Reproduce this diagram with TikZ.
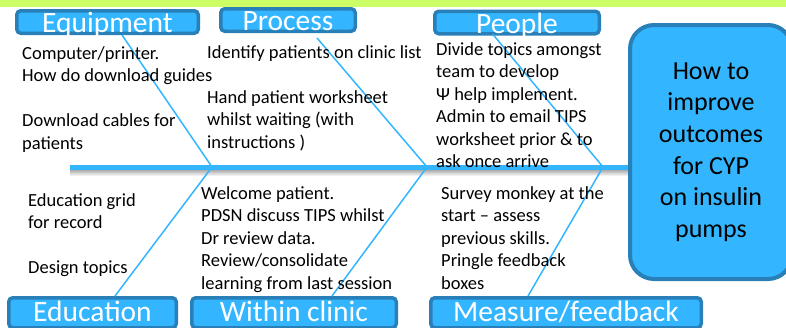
\documentclass[tikz,border=0pt]{standalone}
\usepackage{fontspec}
\setmainfont{Carlito}
\definecolor{fishblue}{RGB}{51,182,255}
\definecolor{fishedge}{RGB}{41,128,185}
\definecolor{bandgreen}{RGB}{204,255,102}

\begin{document}
\begin{tikzpicture}[x=1pt,y=-1pt]
    \tikzstyle{cause}=[rectangle,rounded corners=4pt,draw=fishedge,line width=3.5pt,fill=fishblue,text=white,inner sep=0pt,font=\fontsize{29.5}{29.5}\selectfont,text depth=0pt]
    \tikzstyle{top cause}=[cause,minimum height=22.5pt,text height=21pt]
    \tikzstyle{bottom cause}=[cause,minimum height=30pt,text height=18pt]
    \tikzstyle{effect}=[rectangle,rounded corners=24pt,draw=fishedge,line width=4pt,fill=fishblue,align=center,inner sep=0pt,font=\fontsize{26}{31.6}\selectfont]
    \tikzstyle{notes}=[anchor=north west,align=left,inner sep=0pt,font=\fontsize{18.5}{22.5}\selectfont]
    \tikzstyle{bone}=[draw=fishblue,line width=1.5pt]

    \useasboundingbox (0,0) rectangle (786,327);
    \clip (0,0) rectangle (786,327);

    % Green band along the top
    \fill[bandgreen] (0,0) rectangle (786,7);

    % Spine with its shadow
    \coordinate (tail) at (70,167);
    \shade[top color=black!35,bottom color=white] (70,169.5) rectangle (630,176);

    % Junctions on the spine
    \foreach \name / \x in {1/212,2/427,3/603}
        \coordinate (J-\name) at (\x,167);

    % Cause boxes, top row
    \node[top cause,minimum width=181.5pt] (equip) at (107.5,22) {Equipment};
    \node[top cause,minimum width=134.5pt] (process) at (288,20) {Process};
    \node[top cause,minimum width=164.5pt] (people) at (517,22.5) {People};

    % Cause boxes, bottom row
    \node[bottom cause,minimum width=167.5pt] (education) at (92.5,312.75) {Education};
    \node[bottom cause,minimum width=204.5pt] (clinic) at (294,312.75) {Within clinic};
    \node[bottom cause,minimum width=270.5pt] (measure) at (566,312.75) {Measure/feedback};

    % The effect
    \node[effect,minimum width=162pt,minimum height=254pt] (effect) at (711,152)
        {How to\\improve\\outcomes\\for CYP\\on insulin\\pumps};

    \draw[fishblue,line width=5pt] (tail) -- (tail -| effect.west);

    % Bones from each cause to the spine
    \draw[bone] (equip.south) ++(14.5,0) -- (J-1);
    \draw[bone] (process.south) ++(29,5) -- (J-2);
    \draw[bone] (people.south) ++(-24,-1) -- (J-3);
    \draw[bone] (education.north) ++(22.5,0) -- (J-1);
    \draw[bone] (clinic.north) ++(38,0) -- (J-2);
    \draw[bone] (measure.north) ++(-38,0) -- (J-3);

    % Notes under each cause
    \node[notes] (equip notes) at (22,46)
        {Computer/printer.\\How do download guides\\[22.5pt]Download cables for\\patients};
    \node[notes] (process notes) at (207,45)
        {Identify patients on clinic list\\[22.5pt]Hand patient worksheet\\whilst waiting (with\\instructions )};
    \node[notes] (people notes) at (436,42)
        {Divide topics amongst\\team to develop\\Ψ help implement.\\Admin to email TIPS\\worksheet prior \& to\\ask once arrive};
    \node[notes] (education notes) at (28,193)
        {Education grid\\for record\\[22.5pt]Design topics};
    \node[notes] (clinic notes) at (201,186)
        {Welcome patient.\\PDSN discuss TIPS whilst\\Dr review data.\\Review/consolidate\\learning from last session};
    \node[notes] (measure notes) at (441,186)
        {Survey monkey at the\\start – assess\\previous skills.\\Pringle feedback\\boxes};
\end{tikzpicture}
\end{document}
